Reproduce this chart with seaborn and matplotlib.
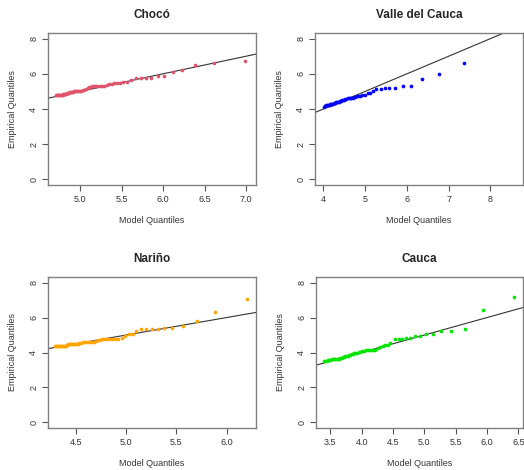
import matplotlib
matplotlib.use("Agg")
import matplotlib.pyplot as plt
import seaborn as sns
import pandas as pd

# ---------------- data ----------------
titles = ["Chocó", "Valle del Cauca", "Nariño", "Cauca"]
colors = ["#DF536B", "#0000FF", "#FFA500", "#00E600"]

x_choco = [4.71,4.72,4.73,4.74,4.75,4.76,4.77,4.78,4.79,4.80,4.81,4.82,4.83,4.84,4.85,4.86,4.87,4.88,4.89,4.90,
           4.92,4.93,4.94,4.95,4.97,4.98,5.00,5.01,5.03,5.05,
           5.07,5.09,5.11,5.13,5.15,5.17,5.19,5.21,5.24,5.26,
           5.29,5.32,5.35,5.38,5.41,5.44,5.48,5.52,5.56,5.62,
           5.68,5.73,5.80,5.86,5.94,6.01,6.12,6.23,6.39,6.62,6.99]
y_choco = [4.78,4.80,4.80,4.80,4.80,4.80,4.80,4.80,4.82,4.85,4.85,4.85,4.88,4.90,4.90,4.90,4.92,4.95,4.95,4.95,
           4.98,5.00,5.00,5.00,5.02,5.05,5.05,5.05,5.08,5.10,
           5.15,5.20,5.25,5.25,5.30,5.30,5.30,5.30,5.32,5.32,
           5.33,5.38,5.40,5.42,5.45,5.50,5.50,5.52,5.55,5.62,
           5.75,5.76,5.77,5.79,5.88,5.89,6.11,6.23,6.50,6.63,6.70]

x_valle = [4.01,4.03,4.05,4.07,4.09,4.11,4.13,4.15,4.17,4.19,4.21,4.23,4.25,4.27,4.29,4.31,4.33,4.35,4.37,4.39,
           4.41,4.43,4.45,4.47,4.49,
           4.52,4.55,4.58,4.61,4.64,4.67,4.70,4.73,4.76,
           4.80,4.84,4.88,4.93,5.00,
           5.07,5.12,5.19,5.27,5.37,5.47,5.57,5.72,5.90,6.10,6.36,6.76,7.36]
y_valle = [4.10,4.15,4.18,4.20,4.20,4.22,4.25,4.25,4.28,4.30,4.30,4.30,4.32,4.32,4.35,4.38,4.40,4.40,4.42,4.45,
           4.45,4.48,4.50,4.50,4.52,
           4.55,4.58,4.60,4.60,4.62,4.62,4.65,4.68,4.70,
           4.72,4.74,4.76,4.78,4.80,
           4.90,4.92,5.00,5.12,5.13,5.22,5.22,5.22,5.31,5.31,5.71,6.00,6.61]

x_narino = [4.29,4.30,4.31,4.32,4.33,4.34,4.35,4.36,4.37,4.38,4.39,4.40,4.41,4.42,4.43,4.44,4.45,4.46,4.47,4.48,4.49,4.50,
            4.52,4.53,4.55,4.57,4.58,4.60,4.62,4.64,4.66,4.68,
            4.70,4.72,4.74,4.76,4.78,4.80,4.83,4.86,4.89,4.92,
            4.96,4.99,5.03,5.07,5.10,5.15,5.20,5.26,5.32,5.38,
            5.46,5.57,5.71,5.88,6.20]
y_narino = [4.40,4.40,4.40,4.40,4.40,4.40,4.40,4.40,4.40,4.40,4.40,4.40,4.45,4.50,4.50,4.50,4.50,4.50,4.50,4.50,4.50,4.50,
            4.50,4.52,4.55,4.60,4.60,4.60,4.60,4.60,4.60,4.62,
            4.65,4.70,4.72,4.75,4.80,4.80,4.80,4.80,4.80,4.80,
            4.85,4.94,5.04,5.04,5.25,5.32,5.32,5.32,5.32,5.42,
            5.42,5.53,5.80,6.34,7.04]

x_cauca = [3.40,3.42,3.44,3.46,3.48,3.50,3.52,3.54,3.56,3.58,3.60,3.62,3.64,3.66,3.68,3.70,3.72,3.74,3.76,3.78,
           3.80,3.82,3.84,3.86,3.88,3.90,3.92,
           3.95,3.98,4.01,4.04,4.07,4.10,4.13,4.16,4.19,4.22,
           4.26,4.30,4.34,4.38,4.42,4.46,
           4.54,4.59,4.64,4.71,4.77,4.85,4.93,5.03,5.14,5.27,5.43,5.65,5.94,6.43]
y_cauca = [3.50,3.52,3.52,3.55,3.55,3.58,3.60,3.60,3.62,3.62,3.65,3.65,3.65,3.68,3.70,3.72,3.75,3.78,3.80,3.82,
           3.85,3.88,3.90,3.92,3.95,3.98,4.00,
           4.02,4.05,4.08,4.10,4.12,4.12,4.12,4.12,4.12,4.15,
           4.25,4.32,4.40,4.43,4.45,4.52,
           4.75,4.75,4.75,4.81,4.81,4.92,4.92,5.04,5.04,5.23,5.23,5.32,6.41,7.16]

xticks = [[5.0, 5.5, 6.0, 6.5, 7.0], [4, 5, 6, 7, 8], [4.5, 5.0, 5.5, 6.0], [3.5, 4.0, 4.5, 5.0, 5.5, 6.0, 6.5]]
xtick_fmt = ["{:.1f}", "{:d}", "{:.1f}", "{:.1f}"]
yticks = [0, 2, 4, 6, 8]

# ---------------- layout ----------------
sns.set_style("white")
plt.rcParams["font.family"] = ["Liberation Sans", "DejaVu Sans"]

W, H = 524, 470
fig = plt.figure(figsize=(W / 100, H / 100), dpi=100)

boxes = [(48, 33, 256, 185), (315, 33, 523, 185), (48, 277, 256, 428), (316, 277, 523, 428)]
xlims = [(4.614, 7.12), (3.80, 8.78), (4.221, 6.293), (3.272, 6.574)]
ylim = (-0.32, 8.32)

datasets = [(x_choco, y_choco), (x_valle, y_valle), (x_narino, y_narino), (x_cauca, y_cauca)]

for i, ((l, t, r, b), (xs, ys)) in enumerate(zip(boxes, datasets)):
    ax = fig.add_axes([l / W, 1 - b / H, (r - l) / W, (b - t) / H])
    df = pd.DataFrame({"model": xs, "emp": ys})
    sns.scatterplot(data=df, x="model", y="emp", ax=ax, color=colors[i], s=7,
                    linewidth=0, zorder=3)
    ax.axline((0, 0), slope=1, color="#333333", lw=0.8, zorder=2)
    ax.set_xlim(*xlims[i])
    ax.set_ylim(*ylim)
    ax.set_xticks(xticks[i])
    ax.set_xticklabels([xtick_fmt[i].format(v) for v in xticks[i]])
    ax.set_yticks(yticks)
    ax.set_yticklabels([str(v) for v in yticks], rotation=90, va="center")
    ax.tick_params(axis="both", direction="out", length=4, width=0.8, color="#555555",
                   labelsize=6.5, labelcolor="#333333", pad=3, bottom=True, left=True)
    for sp in ax.spines.values():
        sp.set_color("#808080")
        sp.set_linewidth(1.0)
    ax.set_xlabel("Model Quantiles", fontsize=6.5, color="#333333", labelpad=9)
    ax.set_ylabel("Empirical Quantiles", fontsize=6.5, color="#333333", labelpad=9)
    ax.set_title(titles[i], fontsize=8.5, fontweight="bold", pad=11)

fig.savefig("out.png", dpi=100)
